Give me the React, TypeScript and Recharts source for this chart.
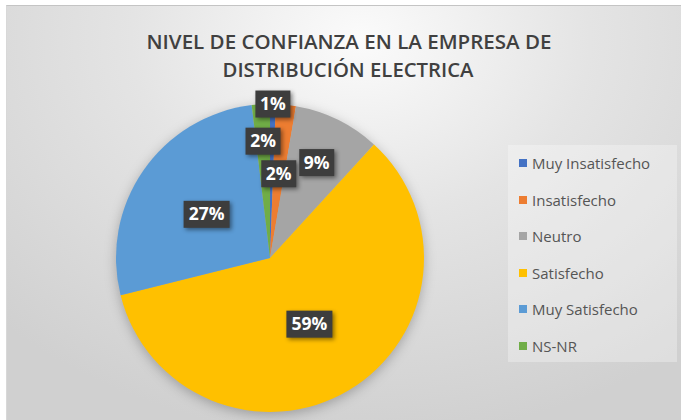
import { PieChart, Pie, Cell, Legend } from "recharts";

const categories = [
  "Muy Insatisfecho",
  "Insatisfecho",
  "Neutro",
  "Satisfecho",
  "Muy Satisfecho",
  "NS-NR",
];
const shares = [0.6, 2.1, 9.1, 59.3, 27.0, 1.9];
const colors = ["#4472C4", "#ED7D31", "#A5A5A5", "#FFC000", "#5B9BD5", "#70AD47"];
// where Excel's "best fit" put each label, as a fraction of the radius
const labelRadius = [1.0, 0.55, 0.69, 0.5, 0.5, 0.76];

const data = categories.map((name, i) => ({ name, value: shares[i] }));

const RAD = Math.PI / 180;

function renderLabel(props: any) {
  const { cx, cy, midAngle, outerRadius, index, percent } = props;
  const r = outerRadius * labelRadius[index];
  const x = cx + r * Math.cos(-midAngle * RAD);
  const y = cy + r * Math.sin(-midAngle * RAD);
  const text = `${Math.round(percent * 100)}%`;
  const w = text.length * 11 + 13;
  const h = 27;
  return (
    <g key={`lbl-${index}`}>
      <rect
        x={x - w / 2}
        y={y - h / 2}
        width={w}
        height={h}
        fill="#3d3d3d"
        style={{ filter: "drop-shadow(2px 2px 2px rgba(0,0,0,0.45))" }}
      />
      <text
        x={x}
        y={y + 6}
        textAnchor="middle"
        fill="#ffffff"
        fontFamily="'Open Sans', sans-serif"
        fontWeight="bold"
        fontSize={17.5}
      >
        {text}
      </text>
    </g>
  );
}

// legend kept in the sheet's order rather than Recharts' sorted payload
function LegendBox() {
  return (
    <div
      style={{
        width: 169,
        height: 217,
        boxSizing: "border-box",
        padding: "0 0 0 11px",
        background: "rgba(255,255,255,0.3)",
      }}
    >
      {categories.map((name, i) => (
        <div
          key={name}
          style={{
            height: 36.5,
            display: "flex",
            alignItems: "center",
            fontFamily: "'Open Sans', sans-serif",
            fontSize: 15,
            color: "#555555",
            whiteSpace: "nowrap",
          }}
        >
          <span
            style={{
              width: 8,
              height: 8,
              background: colors[i],
              marginRight: 5,
              display: "inline-block",
            }}
          />
          {name}
        </div>
      ))}
    </div>
  );
}

export default function App() {
  return (
    <div
      style={{
        position: "absolute",
        left: 0,
        top: 0,
        width: 681,
        height: 420,
        background: "#ffffff",
        overflow: "hidden",
      }}
    >
      <style>{`.recharts-pie { filter: drop-shadow(0px 3px 6px rgba(0,0,0,0.25)); }`}</style>
      <div
        style={{
          position: "absolute",
          left: 6,
          top: 5,
          width: 680,
          height: 420,
          borderTop: "1px solid #c4c4c4",
          borderLeft: "1px solid #d8d8d8",
          background:
            "radial-gradient(ellipse 75% 95% at 52% 8%, #fbfbfb 0%, #e4e4e4 45%, #d0d0d0 100%)",
        }}
      />
      <svg
        width={681}
        height={90}
        style={{ position: "absolute", left: 0, top: 0 }}
      >
        <text
          x={349}
          y={49}
          textAnchor="middle"
          fill="#404040"
          fontFamily="'Open Sans', sans-serif"
          fontWeight={600}
          fontSize={20}
          textLength={405}
          lengthAdjust="spacingAndGlyphs"
        >
          NIVEL DE CONFIANZA EN LA EMPRESA DE
        </text>
        <text
          x={348}
          y={77}
          textAnchor="middle"
          fill="#404040"
          fontFamily="'Open Sans', sans-serif"
          fontWeight={600}
          fontSize={20}
          textLength={251}
          lengthAdjust="spacingAndGlyphs"
        >
          DISTRIBUCIÓN ELECTRICA
        </text>
      </svg>
      <div style={{ position: "absolute", left: 0, top: 0 }}>
        <PieChart width={681} height={420}>
          <Pie
            data={data}
            dataKey="value"
            nameKey="name"
            cx={265}
            cy={253}
            outerRadius={154}
            startAngle={90}
            endAngle={-270}
            stroke="none"
            label={renderLabel}
            labelLine={false}
            isAnimationActive={false}
          >
            {data.map((d, i) => (
              <Cell key={d.name} fill={colors[i]} />
            ))}
          </Pie>
          <Legend
            layout="vertical"
            content={<LegendBox />}
            wrapperStyle={{ left: 508, top: 145, width: 169, bottom: "auto" }}
          />
        </PieChart>
      </div>
    </div>
  );
}
